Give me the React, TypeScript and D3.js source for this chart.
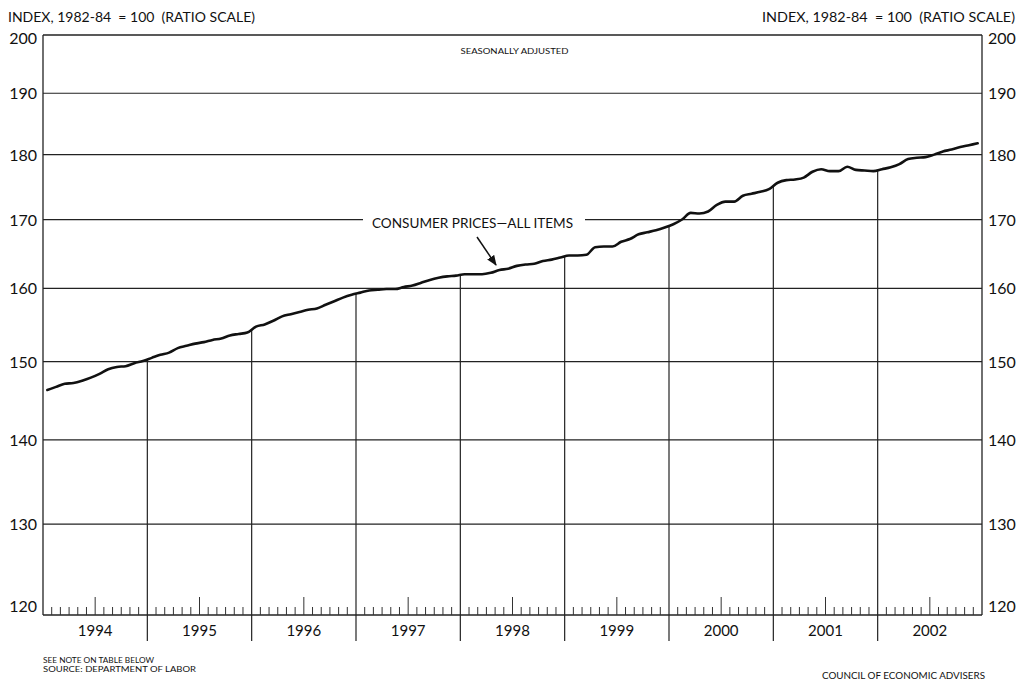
import React from "react";
import * as d3 from "d3";

const years = ["1994", "1995", "1996", "1997", "1998", "1999", "2000", "2001", "2002"];
const yTicks = [120, 130, 140, 150, 160, 170, 180, 190, 200];
// Monthly CPI-U, seasonally adjusted, Jan 1994 .. Dec 2002
const cpi1994 = [146.3, 146.7, 147.1, 147.2, 147.5, 147.9, 148.4, 149.0, 149.3, 149.4, 149.8, 150.1];
const cpi1995 = [150.5, 150.9, 151.2, 151.8, 152.1, 152.4, 152.6, 152.9, 153.1, 153.5, 153.7, 153.9];
const cpi1996 = [154.7, 155.0, 155.5, 156.1, 156.4, 156.7, 157.0, 157.2, 157.7, 158.2, 158.7, 159.1];
const cpi1997 = [159.4, 159.7, 159.8, 159.9, 159.9, 160.2, 160.4, 160.8, 161.2, 161.5, 161.7, 161.8];
const cpi1998 = [162.0, 162.0, 162.0, 162.2, 162.6, 162.8, 163.2, 163.4, 163.5, 163.9, 164.1, 164.4];
const cpi1999 = [164.7, 164.7, 164.8, 165.9, 166.0, 166.0, 166.7, 167.1, 167.8, 168.1, 168.4, 168.8];
const cpi2000 = [169.3, 170.0, 171.0, 170.9, 171.2, 172.2, 172.7, 172.7, 173.6, 173.9, 174.2, 174.6];
const cpi2001 = [175.6, 176.0, 176.1, 176.4, 177.3, 177.7, 177.4, 177.4, 178.1, 177.6, 177.5, 177.4];
const cpi2002 = [177.7, 178.0, 178.5, 179.3, 179.5, 179.6, 180.0, 180.5, 180.8, 181.2, 181.5, 181.8];

const cpi = [
  ...cpi1994, ...cpi1995, ...cpi1996, ...cpi1997, ...cpi1998,
  ...cpi1999, ...cpi2000, ...cpi2001, ...cpi2002,
];

const W = 1020;
const H = 683;
const L = 43;
const R = 982;
const T = 35;
const B = 615;
const FONT = "Lato, 'Open Sans', sans-serif";
const TITLE = "INDEX, 1982-84  = 100  (RATIO SCALE)";

export default function App() {
  const nMonths = years.length * 12;
  const x = d3.scaleLinear().domain([0, nMonths]).range([L, R]);
  const y = d3.scaleLog().domain([120, 200]).range([B, T]);

  const pts: [number, number][] = cpi.map((v, i) => [x(i + 0.5), y(v)]);
  const line = d3.line<[number, number]>().x((d) => d[0]).y((d) => d[1]).curve(d3.curveMonotoneX);

  const boundaryY = (k: number) => {
    const i = k * 12;
    const v = (cpi[i - 1] + cpi[i]) / 2;
    return y(v);
  };

  const monthTicks: { x: number; tall: boolean }[] = [];
  years.forEach((_, yi) => {
    for (let m = 1; m < 12; m++) {
      monthTicks.push({ x: x(yi * 12 + m), tall: m === 6 });
    }
  });

  const gapL = 363;
  const gapR = 585;

  return (
    <svg
      width={W}
      height={H}
      style={{ position: "absolute", left: 0, top: 0, background: "#fff" }}
      fontFamily={FONT}
    >
      <rect x={0} y={0} width={W} height={H} fill="#fff" />
      {/* headers */}
      <text x={8} y={22} fontSize={13.5} fill="#111" style={{ whiteSpace: "pre" }} textLength={247} lengthAdjust="spacingAndGlyphs">{TITLE}</text>
      <text x={1015} y={22} fontSize={13.5} fill="#111" textAnchor="end" style={{ whiteSpace: "pre" }} textLength={253} lengthAdjust="spacingAndGlyphs">{TITLE}</text>
      <text x={514.5} y={53.5} fontSize={8} fill="#111" textAnchor="middle" textLength={108} lengthAdjust="spacingAndGlyphs">SEASONALLY ADJUSTED</text>

      {/* gridlines */}
      {yTicks.filter((t) => t !== 120 && t !== 200).map((t) =>
        t === 170 ? (
          <g key={t}>
            <line x1={L} x2={gapL} y1={y(t)} y2={y(t)} stroke="#222" strokeWidth={1.2} />
            <line x1={gapR} x2={R} y1={y(t)} y2={y(t)} stroke="#222" strokeWidth={1.2} />
          </g>
        ) : (
          <line key={t} x1={L} x2={R} y1={y(t)} y2={y(t)} stroke="#222" strokeWidth={1.2} />
        )
      )}

      {/* frame */}
      <line x1={L} x2={R} y1={T} y2={T} stroke="#222" strokeWidth={1.3} />
      <line x1={L} x2={R} y1={B} y2={B} stroke="#222" strokeWidth={1.3} />
      <line x1={L} x2={L} y1={T} y2={B} stroke="#222" strokeWidth={1.3} />
      <line x1={R} x2={R} y1={T} y2={B} stroke="#222" strokeWidth={1.3} />

      {/* month ticks */}
      {monthTicks.map((d, i) => (
        <line key={i} x1={d.x} x2={d.x} y1={B} y2={d.tall ? B - 18 : B - 8} stroke="#333" strokeWidth={1} />
      ))}

      {/* year separators from below axis up to the curve */}
      {years.slice(1).map((_, k) => (
        <line
          key={k}
          x1={x((k + 1) * 12)}
          x2={x((k + 1) * 12)}
          y1={641}
          y2={boundaryY(k + 1)}
          stroke="#222"
          strokeWidth={1.2}
        />
      ))}

      {/* year labels */}
      {years.map((yr, i) => (
        <text key={yr} x={x(i * 12 + 6)} y={636} fontSize={15} textAnchor="middle" fill="#111">
          {yr}
        </text>
      ))}

      {/* y tick labels */}
      {yTicks.map((t) => {
        const off = t === 200 ? 5 : t === 120 ? -7 : 2;
        return (
          <g key={t}>
            <text x={37} y={y(t) + off} fontSize={16} textAnchor="end" dominantBaseline="middle" fill="#111">
              {t}
            </text>
            <text x={988} y={y(t) + off} fontSize={16} textAnchor="start" dominantBaseline="middle" fill="#111">
              {t}
            </text>
          </g>
        );
      })}

      {/* data line */}
      <path d={line(pts) || ""} fill="none" stroke="#111" strokeWidth={2.6} strokeLinejoin="round" strokeLinecap="round" />

      {/* series label and arrow */}
      <text x={472.5} y={228} fontSize={14} textAnchor="middle" fill="#111" textLength={201} lengthAdjust="spacingAndGlyphs">CONSUMER PRICES—ALL ITEMS</text>
      <defs>
        <marker id="ah" viewBox="0 0 10 10" refX={9} refY={5} markerWidth={7} markerHeight={7} orient="auto">
          <path d="M0,1 L10,5 L0,9 z" fill="#111" />
        </marker>
      </defs>
      <line x1={477} y1={237} x2={496} y2={265} stroke="#111" strokeWidth={1.5} markerEnd="url(#ah)" />

      {/* footers */}
      <text x={43} y={663} fontSize={7.8} fill="#111" textLength={111} lengthAdjust="spacingAndGlyphs">SEE NOTE ON TABLE BELOW</text>
      <text x={43} y={672} fontSize={7.8} fill="#111" textLength={153} lengthAdjust="spacingAndGlyphs">SOURCE: DEPARTMENT OF LABOR</text>
      <text x={985} y={679} fontSize={8.5} fill="#111" textAnchor="end" textLength={163} lengthAdjust="spacingAndGlyphs">COUNCIL OF ECONOMIC ADVISERS</text>
    </svg>
  );
}
